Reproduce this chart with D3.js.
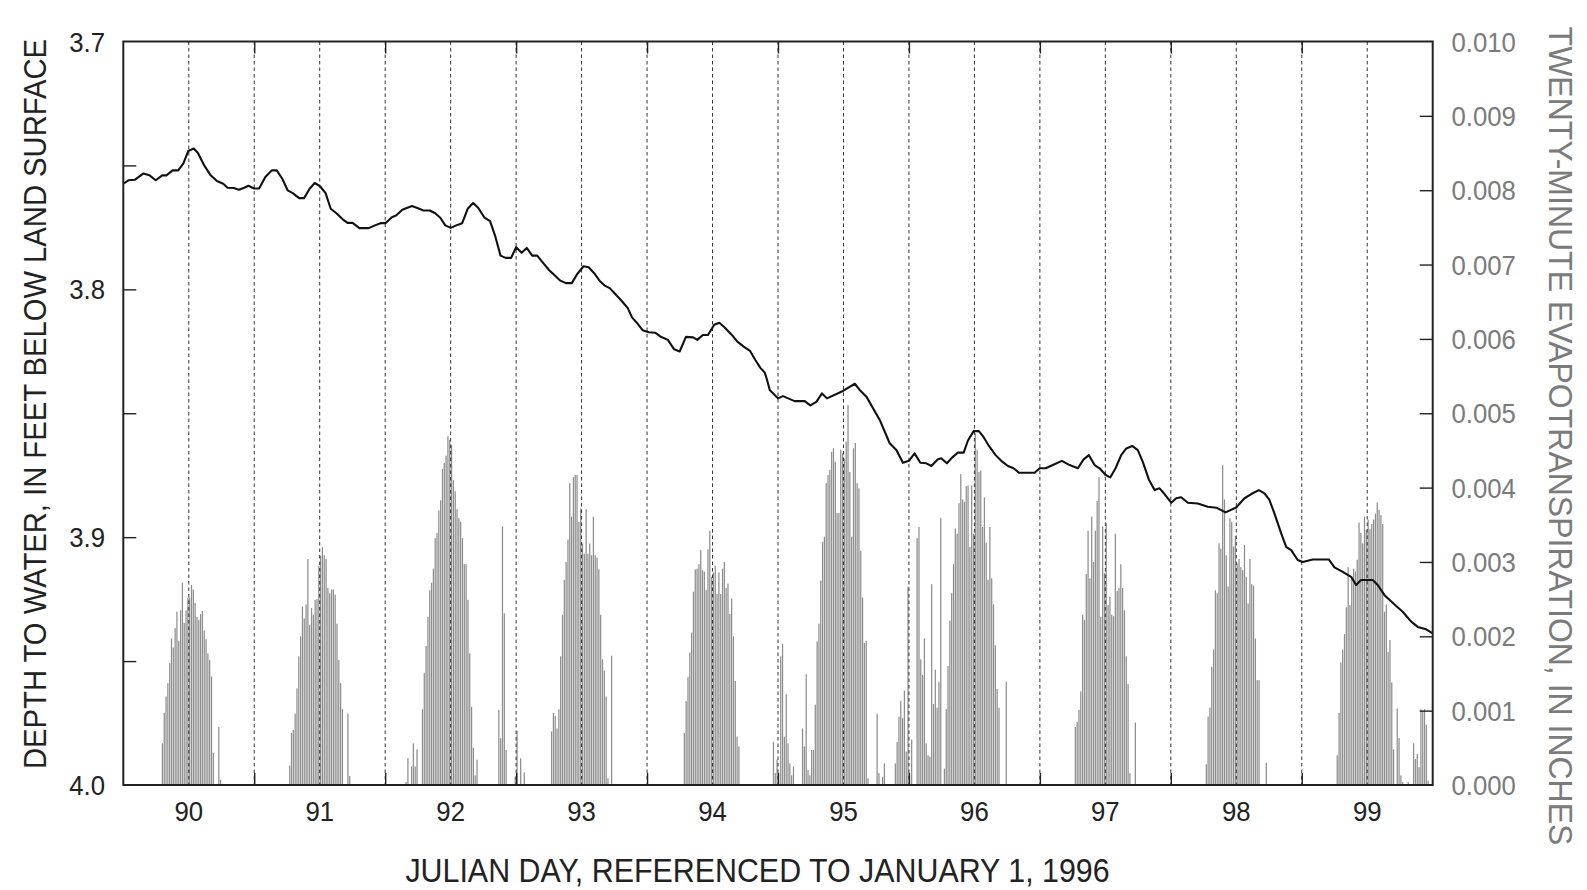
<!DOCTYPE html>
<html>
<head>
<meta charset="utf-8">
<script src="https://cdn.jsdelivr.net/npm/d3@7"></script>
<style>
  html, body { margin: 0; padding: 0; background: #fff; }
  svg { display: block; font-family: "Liberation Sans", Arial, Helvetica, sans-serif; }
</style>
</head>
<body>
<svg id="chart" width="1587" height="890"></svg>
<script>
// Depth to water (feet below land surface) through time (Julian day, 1996)
const wlDay = [89.50,89.539,89.587,89.652,89.700,89.748,89.797,89.829,89.877,89.919,89.958,89.996,90.038,90.070,90.118,90.167,90.215,90.263,90.296,90.344,90.382,90.424,90.456,90.498,90.537,90.585,90.634,90.672,90.714,90.756,90.794,90.843,90.881,90.923,90.962,91.004,91.045,91.084,91.132,91.181,91.213,91.251,91.303,91.374,91.422,91.464,91.502,91.551,91.583,91.631,91.705,91.760,91.792,91.840,91.882,91.921,91.959,92.001,92.043,92.088,92.130,92.172,92.210,92.259,92.301,92.339,92.381,92.420,92.462,92.500,92.542,92.581,92.623,92.661,92.703,92.751,92.790,92.838,92.880,92.925,92.967,93.015,93.054,93.096,93.137,93.176,93.215,93.257,93.305,93.353,93.385,93.427,93.466,93.514,93.562,93.601,93.659,93.707,93.749,93.797,93.852,93.884,93.926,93.965,94.013,94.052,94.093,94.142,94.190,94.238,94.286,94.328,94.367,94.399,94.415,94.437,94.500,94.538,94.627,94.704,94.747,94.793,94.836,94.874,94.996,95.087,95.124,95.175,95.277,95.353,95.404,95.454,95.500,95.543,95.587,95.633,95.671,95.721,95.747,95.790,95.831,95.874,95.918,95.950,95.994,96.034,96.065,96.111,96.162,96.205,96.256,96.299,96.340,96.460,96.498,96.544,96.599,96.668,96.727,96.790,96.834,96.874,96.918,96.956,97.002,97.037,97.078,97.121,97.160,97.205,97.248,97.286,97.332,97.376,97.414,97.452,97.503,97.541,97.579,97.630,97.706,97.782,97.847,97.918,97.999,98.063,98.114,98.172,98.215,98.253,98.291,98.343,98.381,98.419,98.469,98.508,98.584,98.706,98.750,98.813,98.877,98.915,98.953,99.042,99.080,99.132,99.221,99.271,99.336,99.386,99.450,99.500];
const wlDepth = [3.7574,3.7560,3.7558,3.7533,3.7540,3.7560,3.7540,3.7540,3.7520,3.7520,3.7493,3.7442,3.7432,3.7450,3.7500,3.7540,3.7563,3.7574,3.7590,3.7591,3.7598,3.7590,3.7582,3.7593,3.7593,3.7547,3.7520,3.7520,3.7554,3.7601,3.7612,3.7632,3.7632,3.7594,3.7571,3.7585,3.7612,3.7675,3.7695,3.7720,3.7732,3.7732,3.7753,3.7753,3.7742,3.7733,3.7733,3.7709,3.7702,3.7679,3.7664,3.7675,3.7682,3.7682,3.7693,3.7711,3.7742,3.7752,3.7742,3.7733,3.7675,3.7652,3.7671,3.7711,3.7725,3.7783,3.7864,3.7873,3.7873,3.7830,3.7852,3.7833,3.7864,3.7864,3.7891,3.7922,3.7941,3.7965,3.7975,3.7975,3.7938,3.7907,3.7911,3.7935,3.7965,3.7985,3.7995,3.8019,3.8046,3.8076,3.8113,3.8138,3.8165,3.8173,3.8175,3.8190,3.8204,3.8242,3.8251,3.8192,3.8194,3.8204,3.8184,3.8184,3.8143,3.8135,3.8154,3.8181,3.8211,3.8231,3.8248,3.8286,3.8318,3.8336,3.8363,3.8406,3.8440,3.8431,3.8451,3.8451,3.8468,3.8454,3.8420,3.8440,3.8410,3.8381,3.8406,3.8433,3.8527,3.8621,3.8648,3.8700,3.8692,3.8662,3.8700,3.8702,3.8713,3.8686,3.8682,3.8702,3.8678,3.8659,3.8659,3.8611,3.8572,3.8572,3.8592,3.8632,3.8669,3.8692,3.8713,3.8722,3.8740,3.8740,3.8722,3.8722,3.8709,3.8692,3.8709,3.8722,3.8686,3.8669,3.8709,3.8722,3.8749,3.8759,3.8722,3.8669,3.8642,3.8632,3.8649,3.8696,3.8767,3.8810,3.8803,3.8826,3.8861,3.8843,3.8839,3.8861,3.8864,3.8877,3.8881,3.8900,3.8880,3.8843,3.8826,3.8810,3.8823,3.8850,3.8904,3.8985,3.9039,3.9052,3.9092,3.9100,3.9090,3.9090,3.9122,3.9140,3.9160,3.9193,3.9173,3.9173,3.9193,3.9234,3.9278,3.9301,3.9341,3.9362,3.9372,3.9388];

// Twenty-minute evapotranspiration, in thousandths of an inch.
// Each run starts at the given 20-minute slot counted from day 89.5 (72 slots per day).
const etStartSlot = [21, 91, 155, 235, 308, 357, 424, 523, 595, 667];
const etDay90 = [0.56,0.97,1.19,1.37,1.64,1.97,1.85,2.11,2.33,1.94,2.35,2.72,2.18,2.35,2.52,2.52,2.69,2.63,2.45,2.26,2.22,2.30,2.34,2.08,1.96,1.77,1.68,1.46,0.43,0,0,0.78,0.07];
const etDay91 = [0.26,0.70,0.74,0.96,1.30,1.73,2.00,2.40,2.24,2.43,3.04,2.15,2.38,2.29,2.49,2.50,2.95,3.08,3.20,3.09,3.04,2.65,2.58,2.63,2.63,2.56,2.17,1.68,1.37,1.02,0,0,0.96,0.12];
const etDay92 = [0.04,0.36,0,0.25,0.56,0.25,0.48,0,0,1.02,1.51,1.87,2.26,2.62,2.72,2.91,3.32,3.39,3.69,3.83,4.25,4.33,4.43,4.69,4.64,4.57,4.10,3.95,3.71,3.59,3.54,3.32,2.97,2.97,2.49,1.77,1.05,0.50,0.13,0.34,0,0,0,0,0,0,0,0,0,0,0,1.01,0.63,3.48,2.31,0.47,0,0,0,0,0.11,0.73,0,0.36,0,0.17];
const etDay93 = [0.72,0.97,0.93,0.76,1.02,1.73,2.29,2.76,3.00,3.30,4.06,3.61,4.14,4.17,4.17,3.54,3.72,3.25,3.11,3.71,3.11,3.25,3.09,3.61,3.09,3.06,2.90,2.29,1.69,1.54,1.19,0.09,0,1.74];
const etDay94 = [0.70,1.13,1.45,1.78,2.05,2.60,2.90,2.91,2.97,3.16,2.89,2.87,2.62,3.17,3.42,2.80,2.86,2.95,2.57,2.86,2.57,2.91,3.00,2.65,2.71,2.30,2.51,2.00,1.40,0.65,0.52];
const etDay95 = [0.58,0.16,0.34,0,1.73,1.90,0.65,1.22,0.56,0.29,0.13,0.25,0,0,0,0,0.76,0.52,1.49,0.20,0.13,0.47,0.47,1.08,1.93,2.17,2.75,3.27,3.34,4.06,4.17,4.24,4.48,4.53,4.35,3.66,3.66,4.51,4.46,4.39,4.62,5.11,4.21,3.34,4.53,4.60,4.06,3.99,3.15,2.52,1.91,1.94,0.09,0,0,0,0,0.96,0.16,0,0.11,0.29];
const etDay96 = [0.29,0.58,0.92,1.13,0.90,1.27,0.45,2.67,0,0.61,0,0,3.32,3.47,1.69,1.48,1.97,0.56,0.40,0.38,2.70,1.09,1.55,1.04,1.39,3.59,0,0.22,1.02,1.60,2.21,2.58,2.97,3.45,3.38,3.79,4.18,3.84,3.81,4.02,4.03,3.20,4.03,3.38,4.73,4.51,4.21,4.23,3.47,3.87,3.26,2.76,3.47,2.78,2.43,1.88,1.29,1.04,0,0,0,1.39];
const etDay97 = [0.78,0.85,1.01,1.26,2.29,2.22,2.84,3.42,2.78,3.61,3.00,3.42,3.82,4.14,2.26,3.48,2.85,3.52,2.42,2.53,2.29,2.27,3.38,2.61,2.65,2.97,2.65,2.35,1.73,1.36,0.16,0,0,0.84];
const etDay98 = [0.28,0.92,1.04,1.59,1.82,2.62,2.58,3.25,3.18,4.30,3.84,3.09,2.67,3.59,3.54,3.21,3.35,2.98,3.04,2.93,2.89,3.23,2.80,2.44,3.04,2.70,2.68,1.97,1.41,1.41,0.01,0,0,0.30];
const etDay99 = [0.40,0.97,1.65,1.82,2.03,2.39,2.93,2.42,2.80,2.91,2.87,3.03,3.53,3.39,3.25,3.61,3.43,3.57,3.44,3.51,3.57,3.65,3.80,3.70,3.63,3.51,2.33,2.43,1.79,1.95,1.38,0.48,0,1.03,0.63,0.13,0.04,0,0,0.04,0,0,0.56,0.35,0.42,0.24,1.02,1.00,1.02,0.81,0.06];

const dayTicks = [90, 91, 92, 93, 94, 95, 96, 97, 98, 99];
const depthTicks = [3.7, 3.8, 3.9, 4.0];
const etTicks = [0, 0.001, 0.002, 0.003, 0.004, 0.005, 0.006, 0.007, 0.008, 0.009, 0.010];

const etRuns = [etDay90, etDay91, etDay92, etDay93, etDay94, etDay95, etDay96, etDay97, etDay98, etDay99];
const SLOTS_PER_DAY = 72;
const etPoints = [];
etRuns.forEach((run, k) => {
  run.forEach((v, j) => {
    if (v > 0) {
      const slot = etStartSlot[k] + j;
      etPoints.push({ t: 89.5 + (slot + 0.5) / SLOTS_PER_DAY, et: v / 1000 });
    }
  });
});
const waterLevel = wlDay.map((d, i) => ({ t: d, depth: wlDepth[i] }));

const plot = { left: 123.3, right: 1432.7, top: 41.5, bottom: 785 };
const svg = d3.select("#chart");

const x = d3.scaleLinear().domain([89.5, 99.5]).range([plot.left, plot.right]);
const yDepth = d3.scaleLinear().domain([3.7, 4.0]).range([plot.top, plot.bottom]);
const yEt = d3.scaleLinear().domain([0, 0.010]).range([plot.bottom, plot.top]);

const dark = "#222";
const grey = "#7b7b7b";

// Evapotranspiration bars
svg.append("g")
  .selectAll("rect")
  .data(etPoints)
  .join("rect")
  .attr("x", d => x(d.t) - 0.62)
  .attr("width", 1.25)
  .attr("y", d => yEt(d.et))
  .attr("height", d => yEt(0) - yEt(d.et))
  .attr("fill", "#8e8e8e");

// Dashed verticals at noon and midnight
const halfDays = d3.range(90, 99.01, 0.5);
svg.append("g")
  .selectAll("line")
  .data(halfDays)
  .join("line")
  .attr("x1", d => x(d)).attr("x2", d => x(d))
  .attr("y1", plot.top).attr("y2", plot.bottom)
  .attr("stroke", "#333")
  .attr("stroke-width", 1)
  .attr("stroke-dasharray", "3.5,3");

// Water-level line
svg.append("path")
  .datum(waterLevel)
  .attr("fill", "none")
  .attr("stroke", "#111")
  .attr("stroke-width", 2.1)
  .attr("stroke-linejoin", "round")
  .attr("d", d3.line().x(d => x(d.t)).y(d => yDepth(d.depth)));

// Axes with inward ticks
const tickLen = 13;
const leftAxis = d3.axisLeft(yDepth).tickValues(d3.range(3.75, 3.99, 0.05)).tickSize(-tickLen).tickFormat("");
const rightAxis = d3.axisRight(yEt).tickValues(etTicks.slice(1, -1)).tickSize(-tickLen).tickFormat("");
const bottomAxis = d3.axisBottom(x).tickValues(d3.range(90.5, 99, 1)).tickSize(-12).tickFormat("");
const topAxis = d3.axisTop(x).tickValues(d3.range(90.5, 99, 1)).tickSize(-12).tickFormat("");

function styleAxis(g) {
  g.select(".domain").remove();
  g.selectAll(".tick line").attr("stroke", dark).attr("stroke-width", 1.4);
}
svg.append("g").attr("transform", `translate(${plot.left},0)`).call(leftAxis).call(styleAxis);
svg.append("g").attr("transform", `translate(${plot.right},0)`).call(rightAxis).call(styleAxis);
svg.append("g").attr("transform", `translate(0,${plot.bottom})`).call(bottomAxis).call(styleAxis);
svg.append("g").attr("transform", `translate(0,${plot.top})`).call(topAxis).call(styleAxis);

// Frame
svg.append("rect")
  .attr("x", plot.left).attr("y", plot.top)
  .attr("width", plot.right - plot.left).attr("height", plot.bottom - plot.top)
  .attr("fill", "none").attr("stroke", dark).attr("stroke-width", 2);

// Tick labels (slightly condensed face)
const tickFont = 28, squeeze = 0.92;
svg.append("g").selectAll("text").data(depthTicks).join("text")
  .attr("transform", d => `translate(105,${yDepth(d)}) scale(${squeeze},1)`)
  .attr("dy", "0.36em")
  .attr("text-anchor", "end").attr("font-size", tickFont).attr("fill", dark)
  .text(d => d.toFixed(1));

svg.append("g").selectAll("text").data(etTicks).join("text")
  .attr("transform", d => `translate(1451.5,${yEt(d)}) scale(${squeeze},1)`)
  .attr("dy", "0.36em")
  .attr("text-anchor", "start").attr("font-size", tickFont).attr("fill", grey)
  .text(d => d.toFixed(3));

svg.append("g").selectAll("text").data(dayTicks).join("text")
  .attr("transform", d => `translate(${x(d)},821) scale(${squeeze},1)`)
  .attr("text-anchor", "middle").attr("font-size", tickFont).attr("fill", dark)
  .text(d => d);

// Axis titles (glyphs stretched a little across the reading direction)
svg.append("text")
  .attr("transform", "translate(757.5,882) scale(1,1.07)")
  .attr("text-anchor", "middle").attr("font-size", 30.4).attr("fill", dark)
  .text("JULIAN DAY, REFERENCED TO JANUARY 1, 1996");

svg.append("text")
  .attr("transform", "translate(45.5,404) rotate(-90) scale(1,1.1)")
  .attr("text-anchor", "middle").attr("font-size", 29.2).attr("fill", dark)
  .text("DEPTH TO WATER, IN FEET BELOW LAND SURFACE");

svg.append("text")
  .attr("transform", "translate(1549,436) rotate(90) scale(1,1.02)")
  .attr("text-anchor", "middle").attr("font-size", 32).attr("fill", grey)
  .text("TWENTY-MINUTE EVAPOTRANSPIRATION, IN INCHES");
</script>
</body>
</html>
